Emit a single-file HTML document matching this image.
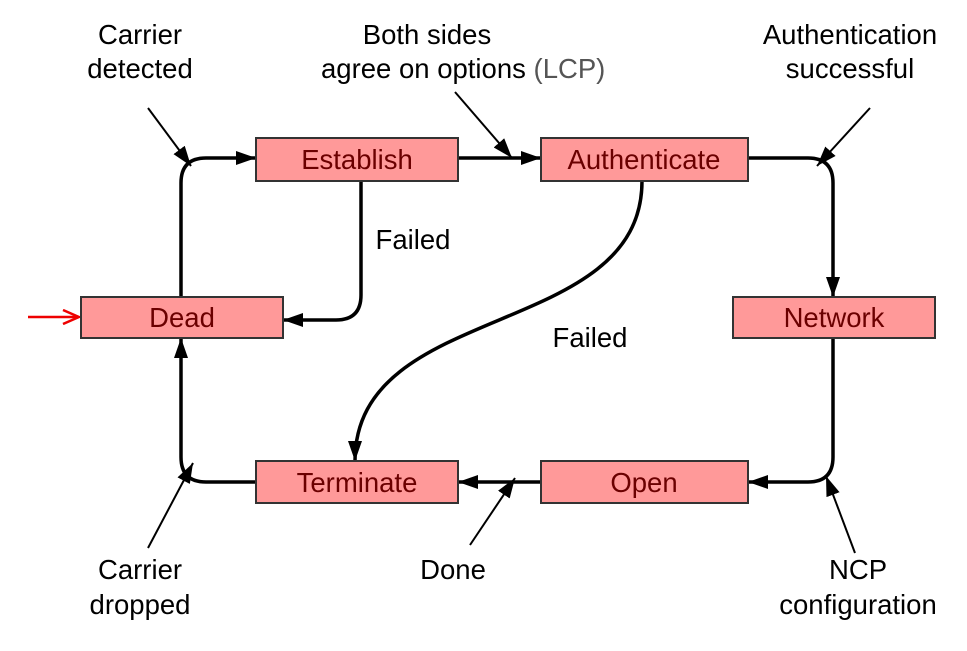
<!DOCTYPE html>
<html><head><style>
body{margin:0;background:#fff;}
svg text{font-family:"Liberation Sans",sans-serif;font-size:27.5px;}
</style></head><body>
<svg width="967" height="646" viewBox="0 0 967 646" xmlns="http://www.w3.org/2000/svg">
<defs>
<marker id="b" viewBox="0 0 20 14" markerWidth="20" markerHeight="14" refX="20" refY="7" orient="auto" markerUnits="userSpaceOnUse"><path d="M0,0 L20,7 L0,14 z" fill="#000"/></marker>
<marker id="r" viewBox="0 0 18 16" markerWidth="18" markerHeight="16" refX="17" refY="8" orient="auto" markerUnits="userSpaceOnUse"><path d="M1,1 L17,8 L1,15" fill="none" stroke="#e00" stroke-width="2.5"/></marker>
</defs>
<g fill="none" stroke="#000" stroke-width="3.5">
<path d="M181,297 V183 Q181,158 206,158 H256" marker-end="url(#b)"/>
<path d="M458,158 H541" marker-end="url(#b)"/>
<path d="M748,158 H808 Q833,158 833,183 V297" marker-end="url(#b)"/>
<path d="M833,338 V457 Q833,482 808,482 H748" marker-end="url(#b)"/>
<path d="M541,482 H458" marker-end="url(#b)"/>
<path d="M256,482 H206 Q181,482 181,457 V338" marker-end="url(#b)"/>
<path d="M361,181 V295 Q361,320 336,320 H283" marker-end="url(#b)"/>
<path d="M642,181 C642,340 355,300 355,461" marker-end="url(#b)"/>
</g>
<g fill="none" stroke="#000" stroke-width="2">
<path d="M148,108 L191,166" marker-end="url(#b)"/>
<path d="M455,92 L512,158" marker-end="url(#b)"/>
<path d="M870,108 L817,166" marker-end="url(#b)"/>
<path d="M148,548 L193,463" marker-end="url(#b)"/>
<path d="M470,545 L515,478" marker-end="url(#b)"/>
<path d="M855,553 L826,476" marker-end="url(#b)"/>
</g>
<path d="M28,317 H79" stroke="#e00" stroke-width="2.5" fill="none" marker-end="url(#r)"/>
<g fill="#ff9999" stroke="#333" stroke-width="2">
<rect x="256" y="138" width="202" height="43"/>
<rect x="541" y="138" width="207" height="43"/>
<rect x="81" y="297" width="202" height="41"/>
<rect x="733" y="297" width="202" height="41"/>
<rect x="256" y="461" width="202" height="42"/>
<rect x="541" y="461" width="207" height="42"/>
</g>
<g fill="#6b0000" text-anchor="middle">
<text x="357" y="169">Establish</text>
<text x="644" y="169">Authenticate</text>
<text x="182" y="327">Dead</text>
<text x="834" y="327">Network</text>
<text x="357" y="492">Terminate</text>
<text x="644" y="492">Open</text>
</g>
<g fill="#000" text-anchor="middle">
<text x="140" y="44">Carrier</text>
<text x="140" y="78">detected</text>
<text x="427" y="44">Both sides</text>
<text x="850" y="44">Authentication</text>
<text x="850" y="78">successful</text>
<text x="413" y="249">Failed</text>
<text x="590" y="347">Failed</text>
<text x="140" y="579">Carrier</text>
<text x="140" y="614">dropped</text>
<text x="453" y="579">Done</text>
<text x="858" y="579">NCP</text>
<text x="858" y="614">configuration</text>
</g>
<text x="321" y="78" fill="#000">agree on options <tspan fill="#555">(LCP)</tspan></text>
</svg>
</body></html>
